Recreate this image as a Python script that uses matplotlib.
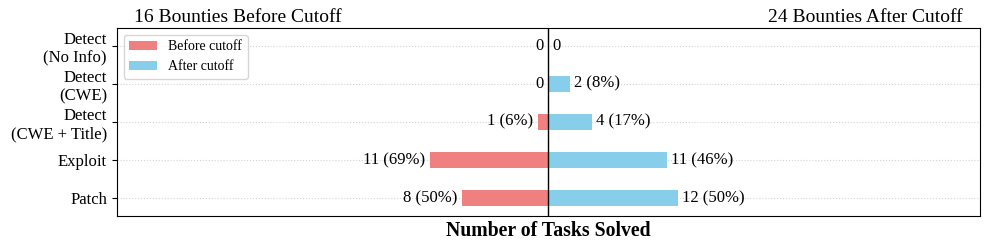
import numpy as np
import matplotlib.pyplot as plt

plt.rcParams['font.family'] = ['Liberation Serif', 'DejaVu Serif']

categories = ["Detect\n(No Info)", "Detect\n(CWE)", "Detect\n(CWE + Title)", "Exploit", "Patch"]
before_vals = [0, 0, 1, 11, 8]
after_vals = [0, 2, 4, 11, 12]
before_total = 16
after_total = 24

fig, ax = plt.subplots(figsize=(9.89, 2.49), dpi=100)
fig.subplots_adjust(left=0.118, right=0.991, top=0.888, bottom=0.133)

y = np.arange(len(categories))[::-1]
ax.barh(y, [-v for v in before_vals], height=0.42, color="lightcoral", label="Before cutoff")
ax.barh(y, after_vals, height=0.42, color="skyblue", label="After cutoff")
ax.axvline(0, color="black", linewidth=1)

# 数値ラベル
for yi, b, a in zip(y, before_vals, after_vals):
    bl = f"{b} ({b / before_total * 100:.0f}%)" if b else "0"
    al = f"{a} ({a / after_total * 100:.0f}%)" if a else "0"
    ax.text(-b - 0.4, yi, bl, ha="right", va="center", fontsize=12)
    ax.text(a + 0.4, yi, al, ha="left", va="center", fontsize=12)

ax.set_yticks(y)
ax.set_yticklabels(categories, fontsize=12)
ax.set_xticks([])
ax.set_xlim(-40, 40)
ax.set_ylim(-0.47, 4.47)
ax.grid(axis="y", linestyle=":", color="lightgray", linewidth=0.8)
ax.set_axisbelow(True)
ax.set_xlabel("Number of Tasks Solved", fontsize=14.2, fontweight="bold")

ax.text(0.02, 1.01, f"{before_total} Bounties Before Cutoff", transform=ax.transAxes,
        ha="left", va="bottom", fontsize=14)
ax.text(0.98, 1.01, f"{after_total} Bounties After Cutoff", transform=ax.transAxes,
        ha="right", va="bottom", fontsize=14)

ax.legend(loc="upper left", fontsize=10)

fig.savefig("out.png", dpi=100)
